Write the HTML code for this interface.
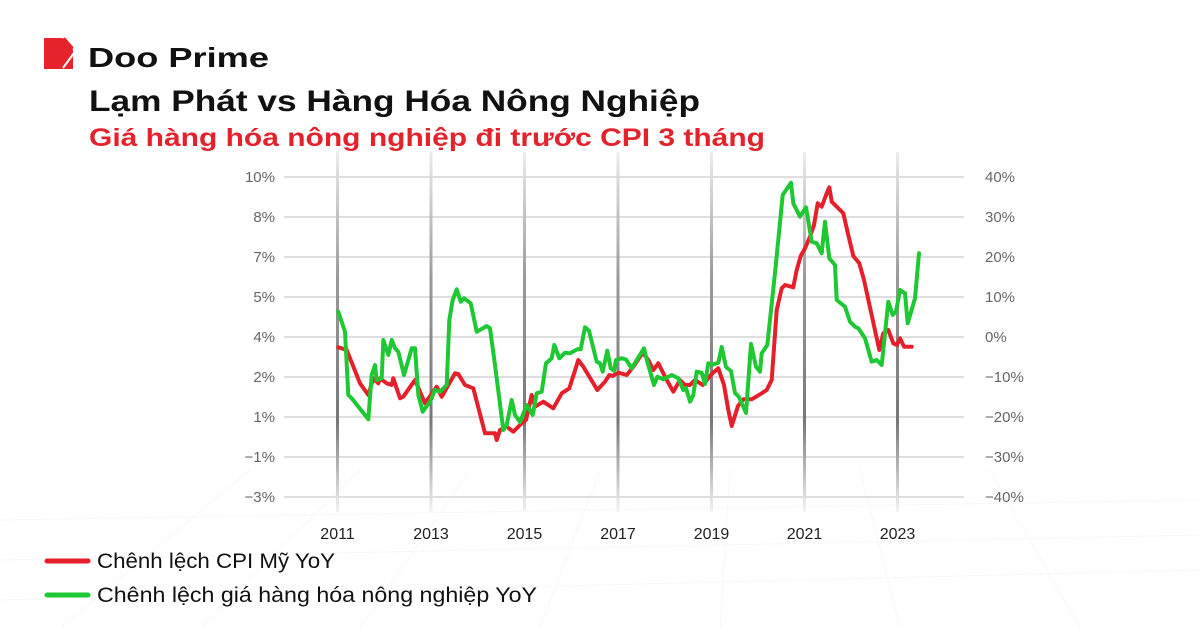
<!DOCTYPE html>
<html>
<head>
<meta charset="utf-8">
<style>
  html,body{margin:0;padding:0;background:#fff;}
  svg{display:block;}
  text{font-family:"Liberation Sans","Noto Sans CJK SC",sans-serif;}
</style>
</head>
<body>
<svg width="1200" height="628" viewBox="0 0 1200 628" xmlns="http://www.w3.org/2000/svg">
  <defs>
    <linearGradient id="vg" x1="0" y1="0" x2="0" y2="1">
      <stop offset="0" stop-color="#ececec"/>
      <stop offset="0.35" stop-color="#9a9a9a"/>
      <stop offset="0.75" stop-color="#777"/>
      <stop offset="1" stop-color="#f4f4f4"/>
    </linearGradient>
  </defs>
  <rect width="1200" height="628" fill="#fff"/>

  <!-- faint perspective background grid -->
  <g stroke="#f7f7f7" stroke-width="1" fill="none">
    <path d="M0,520 L1200,500 M0,560 L1200,535 M0,600 L1200,570"/>
    <path d="M60,628 L250,470 M200,628 L360,470 M360,628 L470,470 M540,628 L600,470 M720,628 L730,470 M900,628 L860,470 M1080,628 L990,470"/>
  </g>

  <!-- Logo -->
  <rect x="44" y="38" width="29" height="31" fill="#e5232a"/>
  <polygon points="61,37 74,37 74,51" fill="#fff"/>
  <line x1="64.5" y1="39.5" x2="71.5" y2="47.5" stroke="#e5232a" stroke-width="3.5" stroke-linecap="round"/>
  <line x1="74" y1="53" x2="63" y2="68" stroke="#fff" stroke-width="2"/>
  <text x="88" y="67" font-size="28" font-weight="bold" fill="#111" textLength="181" lengthAdjust="spacingAndGlyphs">Doo Prime</text>

  <!-- Titles -->
  <text x="89" y="111" font-size="30" font-weight="bold" fill="#111" textLength="611" lengthAdjust="spacingAndGlyphs">Lạm Phát vs Hàng Hóa Nông Nghiệp</text>
  <text x="89" y="146" font-size="25" font-weight="bold" fill="#e3222b" textLength="676" lengthAdjust="spacingAndGlyphs">Giá hàng hóa nông nghiệp đi trước CPI 3 tháng</text>

  <!-- Horizontal gridlines -->
  <g stroke="#dedede" stroke-width="2">
    <line x1="284" y1="177" x2="964" y2="177"/>
    <line x1="284" y1="217" x2="964" y2="217"/>
    <line x1="284" y1="257" x2="964" y2="257"/>
    <line x1="284" y1="297" x2="964" y2="297"/>
    <line x1="284" y1="337" x2="964" y2="337"/>
    <line x1="284" y1="377" x2="964" y2="377"/>
    <line x1="284" y1="417" x2="964" y2="417"/>
    <line x1="284" y1="457" x2="964" y2="457"/>
    <line x1="284" y1="497" x2="964" y2="497"/>
  </g>

  <!-- Vertical year lines -->
  <g fill="url(#vg)">
    <rect x="336" y="152" width="3" height="360"/>
    <rect x="429.5" y="152" width="3" height="360"/>
    <rect x="523" y="152" width="3" height="360"/>
    <rect x="616.5" y="152" width="3" height="360"/>
    <rect x="710" y="152" width="3" height="360"/>
    <rect x="803" y="152" width="3" height="360"/>
    <rect x="896" y="152" width="3" height="360"/>
  </g>

  <!-- Left axis labels -->
  <g font-size="15" fill="#666" text-anchor="end">
    <text x="275" y="182">10%</text>
    <text x="275" y="222">8%</text>
    <text x="275" y="262">7%</text>
    <text x="275" y="302">5%</text>
    <text x="275" y="342">4%</text>
    <text x="275" y="382">2%</text>
    <text x="275" y="422">1%</text>
    <text x="275" y="462">−1%</text>
    <text x="275" y="502">−3%</text>
  </g>

  <!-- Right axis labels -->
  <g font-size="15" fill="#666">
    <text x="985" y="182">40%</text>
    <text x="985" y="222">30%</text>
    <text x="985" y="262">20%</text>
    <text x="985" y="302">10%</text>
    <text x="985" y="342">0%</text>
    <text x="985" y="382">−10%</text>
    <text x="985" y="422">−20%</text>
    <text x="985" y="462">−30%</text>
    <text x="985" y="502">−40%</text>
  </g>

  <!-- Year labels -->
  <g font-size="16" fill="#222" text-anchor="middle">
    <text x="337.5" y="539">2011</text>
    <text x="431" y="539">2013</text>
    <text x="524.5" y="539">2015</text>
    <text x="618" y="539">2017</text>
    <text x="711.5" y="539">2019</text>
    <text x="804.5" y="539">2021</text>
    <text x="897.5" y="539">2023</text>
  </g>

  <!-- Red series: CPI -->
  <polyline fill="none" stroke="#e6202a" stroke-width="4" stroke-linejoin="round" stroke-linecap="round" points="
338.3,347.3 346.7,350 360,383.3 368.3,395 373.3,378.3 378.3,383.3 380,378.3 386.7,383.3 391.7,385 393.3,378.3 400,398.3 403.3,396.7 415,380 425,403.3 436.7,386.7 441.7,396.7 455,373.3 458.3,374 465,385 473.3,388.3 485,433.3 495,433.3 496.7,440 500,430 506.7,426.7 513.3,431.7 521,424 526,420 531.7,395 535,406.7 543.3,401.7 553.3,408.3 561.7,393.3 569.3,388.3 578.3,360 583.3,366.7 588.3,375 597.3,390 605,381.7 609.3,375 612.7,376 618.3,372.7 626.7,375 633.3,366.7 642.7,352.7 648.3,360 653.3,370 658.3,363.3 666.7,380 673.3,391.7 680,380 685,385 690,385 695,380 702.7,385 711.7,374 718.3,368.3 724,385 728.3,410 731.7,426 738,406 743.3,399.3 751.7,399.3 761.7,393.3 766.7,390 771.7,380 776.7,310 781.7,288.3 785,285 793.3,287.3 796.7,270 800.7,256 805,248.3 810,236.7 814,225 817.7,203.3 821.7,206.7 826.7,193.3 829.3,187.3 831.7,201.7 836.7,206.7 843.3,213.3 848.3,235 853.3,256 859.3,263.3 864,280 879.3,350 883.3,333.3 888.3,330 893.3,343.3 896.7,345 900,338.3 904,346.7 911.7,346.7"/>

  <!-- Green series: agricultural commodities -->
  <polyline fill="none" stroke="#1ec832" stroke-width="4" stroke-linejoin="round" stroke-linecap="round" points="
338.3,311.7 345,331.7 348.3,395 351.7,398.3 368.3,419.3 371.7,375 375,365 376.7,380 381.7,378.3 383.3,340 388.3,355 391.7,340 395,348.3 398.3,351.7 404,375 411.7,348.3 415,348.3 418.3,395 422.7,411.7 430,401.7 435,390 440,391.7 446.7,385 449.3,320 452.7,300 456.7,289.3 460.7,301.7 464,298.3 470.7,303.3 476.7,331.7 486.7,326 490,328.3 495,365 503.3,430 506.7,425 511.7,400 515,415 520,422 526.7,405 532.7,415 536.7,393.3 541.7,391.7 546,363.3 551.7,358.3 554.3,345 559.3,358.3 565,352.7 570,353.3 577.3,349.3 580.7,349.3 585,327.3 589,330.7 596.7,361.7 600,363.3 602.7,371.7 607.3,350.7 610.7,368.3 614,370.7 616,360 621.7,358.3 626,359.5 631.7,368.3 636.7,360 644,348.3 647.3,361.7 654,385 657.3,376.7 663.3,379.3 671.7,375 678.3,378.3 683.3,390 686,388 690,401.7 693.3,395 696.7,371.7 701.7,372.7 705,384 708.3,363.3 711.7,365 718.3,362.7 721.7,347 726,367 731,371 735,393 739,397 746,413 751,344 756,366.7 760,371.7 761.7,353.3 767.3,345 775,273 782.7,195 791,182.7 793.3,203.3 800,216.7 806,207.3 811.7,241.7 816.7,243.3 821.7,253.3 825,221.7 829.3,258.3 835,265 836.7,300 845,306.7 850,321.7 855,326.7 858.3,328.3 865,338.3 871.7,361.7 876.7,360 881.7,365 888.3,301.7 892.7,315 896,311.7 900,290 905,293.3 907.7,323.3 915,298.3 919,253.3"/>

  <!-- Legend -->
  <line x1="47" y1="561" x2="88" y2="561" stroke="#e6202a" stroke-width="5" stroke-linecap="round"/>
  <text x="97" y="568" font-size="21" fill="#111" textLength="238" lengthAdjust="spacingAndGlyphs">Chênh lệch CPI Mỹ YoY</text>
  <line x1="47" y1="595" x2="88" y2="595" stroke="#1ec832" stroke-width="5" stroke-linecap="round"/>
  <text x="97" y="602" font-size="21" fill="#111" textLength="440" lengthAdjust="spacingAndGlyphs">Chênh lệch giá hàng hóa nông nghiệp YoY</text>
</svg>
</body>
</html>
